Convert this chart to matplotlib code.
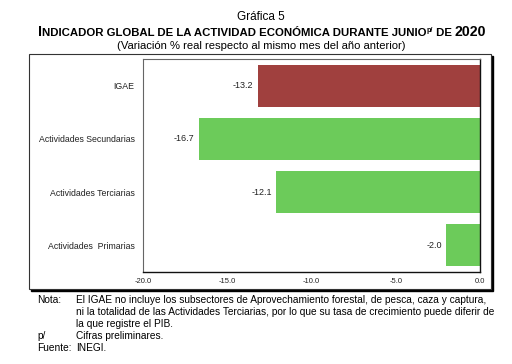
import matplotlib
matplotlib.use("Agg")
import matplotlib.pyplot as plt
from matplotlib.patches import Rectangle

plt.rcParams['font.family'] = ['Liberation Sans', 'DejaVu Sans']

categories = ["IGAE", "Actividades Secundarias", "Actividades Terciarias", "Actividades  Primarias"]
values = [-13.2, -16.7, -12.1, -2.0]
colors = ["#A0403E", "#6CCB5A", "#6CCB5A", "#6CCB5A"]
xticks = [-20.0, -15.0, -10.0, -5.0, 0.0]
xticklabels = ["-20.0", "-15.0", "-10.0", "-5.0", "0.0"]

W, H = 512, 364
fig = plt.figure(figsize=(W/100, H/100), dpi=100)

def fx(px): return px / W
def fy(py): return 1 - py / H

# outer box with shadow
fig.patches.append(Rectangle((fx(31), fy(291)), fx(493) - fx(31), fy(56) - fy(291),
                             transform=fig.transFigure, facecolor='black', edgecolor='black', zorder=0))
fig.patches.append(Rectangle((fx(29), fy(289)), fx(491) - fx(29), fy(54) - fy(289),
                             transform=fig.transFigure, facecolor='white', edgecolor='#333333', lw=0.8, zorder=1))

ax = fig.add_axes([fx(143), fy(272), fx(480) - fx(143), fy(59) - fy(272)])
ax.set_zorder(2)
ypos = list(range(len(categories)))
ax.barh(ypos, values, height=0.79, color=colors, edgecolor='none')
for y, v in zip(ypos, values):
    ax.text(v - 0.25, y, f"{v:.1f}", ha='right', va='center', fontsize=6.5, color='#222222')
ax.set_xlim(-20, 0)
ax.set_ylim(len(categories) - 0.5, -0.5)
ax.set_yticks(ypos)
ax.set_yticklabels(categories, fontsize=6.3, color='#222222')
ax.set_xticks(xticks)
ax.set_xticklabels(xticklabels, fontsize=5.5, color='#222222')
ax.tick_params(axis='y', length=0, pad=6)
ax.tick_params(axis='x', length=0, pad=4)
for s in ['left', 'top']:
    ax.spines[s].set_color('#666666')
    ax.spines[s].set_linewidth(0.8)
for s in ['right', 'bottom']:
    ax.spines[s].set_color('#111111')
    ax.spines[s].set_linewidth(1.0)

# titles
fig.text(fx(261), fy(17), "Gráfica 5", ha='center', va='center', fontsize=8.5)

renderer = fig.canvas.get_renderer()
pieces = [("I", 10.2, 0), ("NDICADOR GLOBAL DE LA ACTIVIDAD ECONÓMICA DURANTE JUNIO", 8.2, 0),
          ("p/", 5.2, 4), (" DE ", 8.2, 0), ("2020", 10.2, 0)]
widths = []
for txt, sz, _ in pieces:
    t = fig.text(0, 0, txt, fontsize=sz, fontweight='bold')
    widths.append(t.get_window_extent(renderer).width)
    t.remove()
total = sum(widths)
x0 = 262 - total / 2
for (txt, sz, dy), w in zip(pieces, widths):
    fig.text(fx(x0), fy(36 - dy), txt, ha='left', va='baseline', fontsize=sz, fontweight='bold')
    x0 += w

fig.text(fx(261), fy(46), "(Variación % real respecto al mismo mes del año anterior)", ha='center', va='center', fontsize=8.1)

# notes
fs = 7.25
fig.text(fx(37), fy(300), "Nota:", ha='left', va='center', fontsize=fs)
note_lines = ["El IGAE no incluye los subsectores de Aprovechamiento forestal, de pesca, caza y captura,",
              "ni la totalidad de las Actividades Terciarias, por lo que su tasa de crecimiento puede diferir de",
              "la que registre el PIB."]
for i, line in enumerate(note_lines):
    fig.text(fx(76), fy(300 + 12 * i), line, ha='left', va='center', fontsize=fs)
fig.text(fx(37), fy(336), "p/", ha='left', va='center', fontsize=fs)
fig.text(fx(76), fy(336), "Cifras preliminares.", ha='left', va='center', fontsize=fs)
fig.text(fx(37), fy(348), "Fuente:", ha='left', va='center', fontsize=fs)
fig.text(fx(76), fy(348), "INEGI.", ha='left', va='center', fontsize=fs)

fig.savefig("out.png", dpi=100)
